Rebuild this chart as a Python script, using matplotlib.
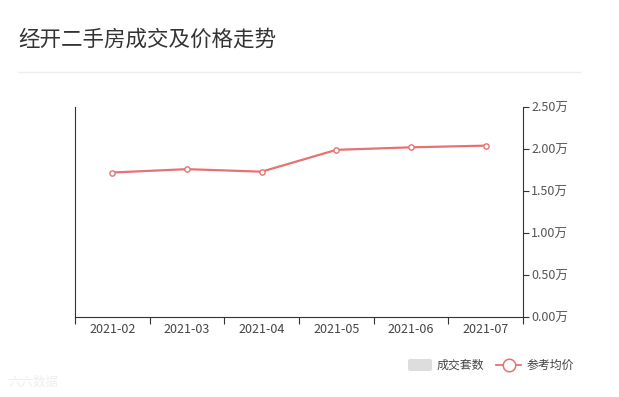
import matplotlib
matplotlib.use("Agg")
import matplotlib.pyplot as plt
from matplotlib.patches import FancyBboxPatch
from matplotlib.lines import Line2D
import numpy as np

plt.rcParams['font.family'] = ['Noto Sans CJK SC', 'DejaVu Sans']

months = ['2021-02', '2021-03', '2021-04', '2021-05', '2021-06', '2021-07']
deals = [0, 0, 0, 0, 0, 0]
avg_price = [1.72, 1.76, 1.73, 1.99, 2.02, 2.04]
price_ticks = [0.0, 0.5, 1.0, 1.5, 2.0, 2.5]
title = '经开二手房成交及价格走势'
legend_bar = '成交套数'
legend_line = '参考均价'

W, H = 619, 397
fig = plt.figure(figsize=(W / 100, H / 100), dpi=100)

def fx(px):
    return px / W

def fy(py):
    return 1 - py / H

ax = fig.add_axes([fx(75), fy(317), fx(523) - fx(75), fy(107) - fy(317)])
x = np.arange(len(months))
ax.bar(x, deals, width=0.6, color='#dddddd')
ax.set_xlim(-0.5, len(months) - 0.5)
ax.set_yticks([])
for s in ['top', 'right']:
    ax.spines[s].set_visible(False)
ax.spines['left'].set_color('#333333')
ax.spines['bottom'].set_color('#333333')
ax.set_xticks(np.arange(-0.5, len(months), 1.0), minor=False)
ax.set_xticklabels([])
ax.tick_params(axis='x', which='major', length=5, color='#333333')
ax.set_xticks(x, minor=True)
ax.set_xticklabels(months, minor=True)
ax.tick_params(axis='x', which='minor', length=0, labelsize=9, labelcolor='#444444', pad=4)

ax2 = ax.twinx()
ax2.plot(x, avg_price, color='#e57373', lw=1.6, marker='o', ms=3.8,
         mfc='white', mec='#e57373', mew=1.0, zorder=5)
ax2.set_ylim(0, 2.5)
ax2.set_yticks(price_ticks)
ax2.set_yticklabels([f'{v:.2f}万' for v in price_ticks])
ax2.tick_params(axis='y', length=4, color='#333333', labelsize=9, labelcolor='#555555', pad=2)
for s in ['top', 'left', 'bottom']:
    ax2.spines[s].set_visible(False)
ax2.spines['right'].set_color('#333333')

# title and separator
fig.text(fx(18), fy(40), title, fontsize=15.5, color='#333333', va='center', ha='left')
fig.add_artist(Line2D([fx(18), fx(580)], [fy(72), fy(72)], color='#eeeeee', lw=1))

# legend
fig.add_artist(FancyBboxPatch((fx(408), fy(371)), fx(24), fy(359) - fy(371),
                              boxstyle='round,pad=0,rounding_size=0.004',
                              facecolor='#dddddd', edgecolor='none'))
fig.text(fx(437), fy(365), legend_bar, fontsize=8.6, color='#444444', va='center', ha='left')
fig.add_artist(Line2D([fx(496), fx(521)], [fy(365), fy(365)], color='#e57373', lw=1.3))
fig.add_artist(Line2D([fx(508.5)], [fy(365)], marker='o', ms=9, mfc='white',
                      mec='#e57373', mew=1.1, lw=0))
fig.text(fx(527), fy(365), legend_line, fontsize=8.6, color='#444444', va='center', ha='left')

# watermark
fig.text(fx(8), fy(382), '六六数据', fontsize=9, color='#eeeeee', va='center', ha='left')

fig.savefig('out.png', dpi=100)
